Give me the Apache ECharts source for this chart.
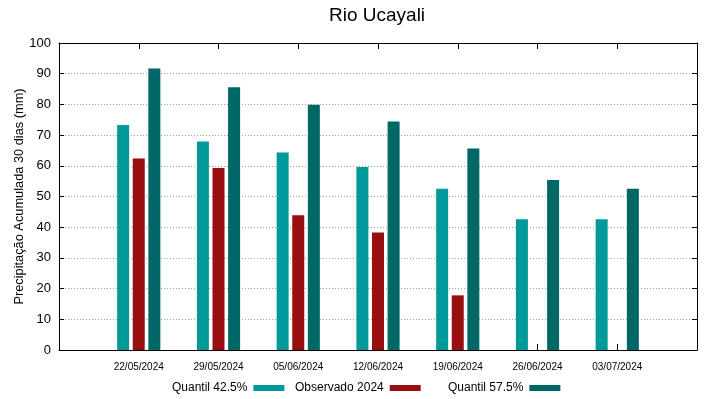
<!DOCTYPE html>
<html>
<head>
<meta charset="utf-8">
<script src="https://cdn.jsdelivr.net/npm/echarts@6/dist/echarts.min.js"></script>
<style>
html, body { margin: 0; padding: 0; background: #fff; }
#main { width: 719px; height: 399px; }
</style>
</head>
<body>
<div id="main"></div>
<script>
var datas = ['22/05/2024', '29/05/2024', '05/06/2024', '12/06/2024', '19/06/2024', '26/06/2024', '03/07/2024'];
var q425 = [73.3, 67.9, 64.3, 59.6, 52.5, 42.6, 42.6];
var observado = [62.4, 59.3, 43.9, 38.3, 17.8, null, null];
var q575 = [91.7, 85.6, 79.9, 74.4, 65.6, 55.4, 52.5];

var fonte = 'Liberation Sans, Arial, sans-serif';

// gnuplot deixa meia caixa vazia de cada lado
var pad = function (arr) {
	return [null].concat(arr, [null]);
};
var cats = pad(datas).map(function (d) { return d || ''; });

var eixoX = function (pos, labels) {
	return {
		type: 'category',
		position: pos,
		data: cats,
		boundaryGap: false,
		axisLine: { show: true, onZero: false, lineStyle: { color: '#000', width: 1 } },
		axisTick: { show: true, inside: true, length: 6, interval: 0, lineStyle: { color: '#000', width: 1 } },
		axisLabel: { show: labels, interval: 0, fontSize: 10, color: '#000', margin: 12, fontFamily: fonte },
		splitLine: { show: false }
	};
};

var eixoY = function (pos, labels) {
	return {
		type: 'value',
		position: pos,
		min: 0,
		max: 100,
		interval: 10,
		axisLine: { show: true, onZero: false, lineStyle: { color: '#000', width: 1 } },
		axisTick: { show: true, inside: true, length: 5, lineStyle: { color: '#000' } },
		axisLabel: { show: labels, fontSize: 13, color: '#000', margin: 8, fontFamily: fonte },
		splitLine: { show: labels, lineStyle: { color: '#a0a0a0', type: [1, 2], width: 1 } },
		name: labels ? 'Precipitação Acumulada 30 dias (mm)' : '',
		nameLocation: 'middle',
		nameRotate: 90,
		nameGap: 33,
		nameMoveOverlap: false,
		nameTextStyle: { fontSize: 12.8, color: '#000', fontFamily: fonte }
	};
};

var legenda = function (nome, left) {
	return {
		data: [nome],
		left: left,
		top: 382,
		padding: 0,
		align: 'right',
		icon: 'rect',
		itemWidth: 31,
		itemHeight: 6,
		selectedMode: false,
		textStyle: { fontSize: 12, color: '#000', fontFamily: fonte, padding: [0, 1, 0, 0] }
	};
};

var barra = function (nome, valores, cor) {
	return {
		name: nome,
		type: 'bar',
		data: pad(valores),
		barWidth: 12,
		barGap: '30%',
		itemStyle: { color: cor },
		xAxisIndex: 0,
		yAxisIndex: 0
	};
};

var myChart = echarts.init(document.getElementById('main'));
myChart.setOption({
	animation: false,
	backgroundColor: '#fff',
	title: {
		text: 'Rio Ucayali',
		left: 329,
		top: 6,
		padding: 0,
		textStyle: { fontSize: 19, fontWeight: 'normal', color: '#000', fontFamily: fonte }
	},
	grid: { left: 59, right: 22, top: 43, bottom: 49, outerBoundsMode: 'none' },
	legend: [
		legenda('Quantil 42.5%', 172),
		legenda('Observado 2024', 295),
		legenda('Quantil 57.5%', 448)
	],
	xAxis: [eixoX('bottom', true), eixoX('top', false)],
	yAxis: [eixoY('left', true), eixoY('right', false)],
	series: [
		barra('Quantil 42.5%', q425, '#009999'),
		barra('Observado 2024', observado, '#990f0f'),
		barra('Quantil 57.5%', q575, '#006767')
	]
});
</script>
</body>
</html>
